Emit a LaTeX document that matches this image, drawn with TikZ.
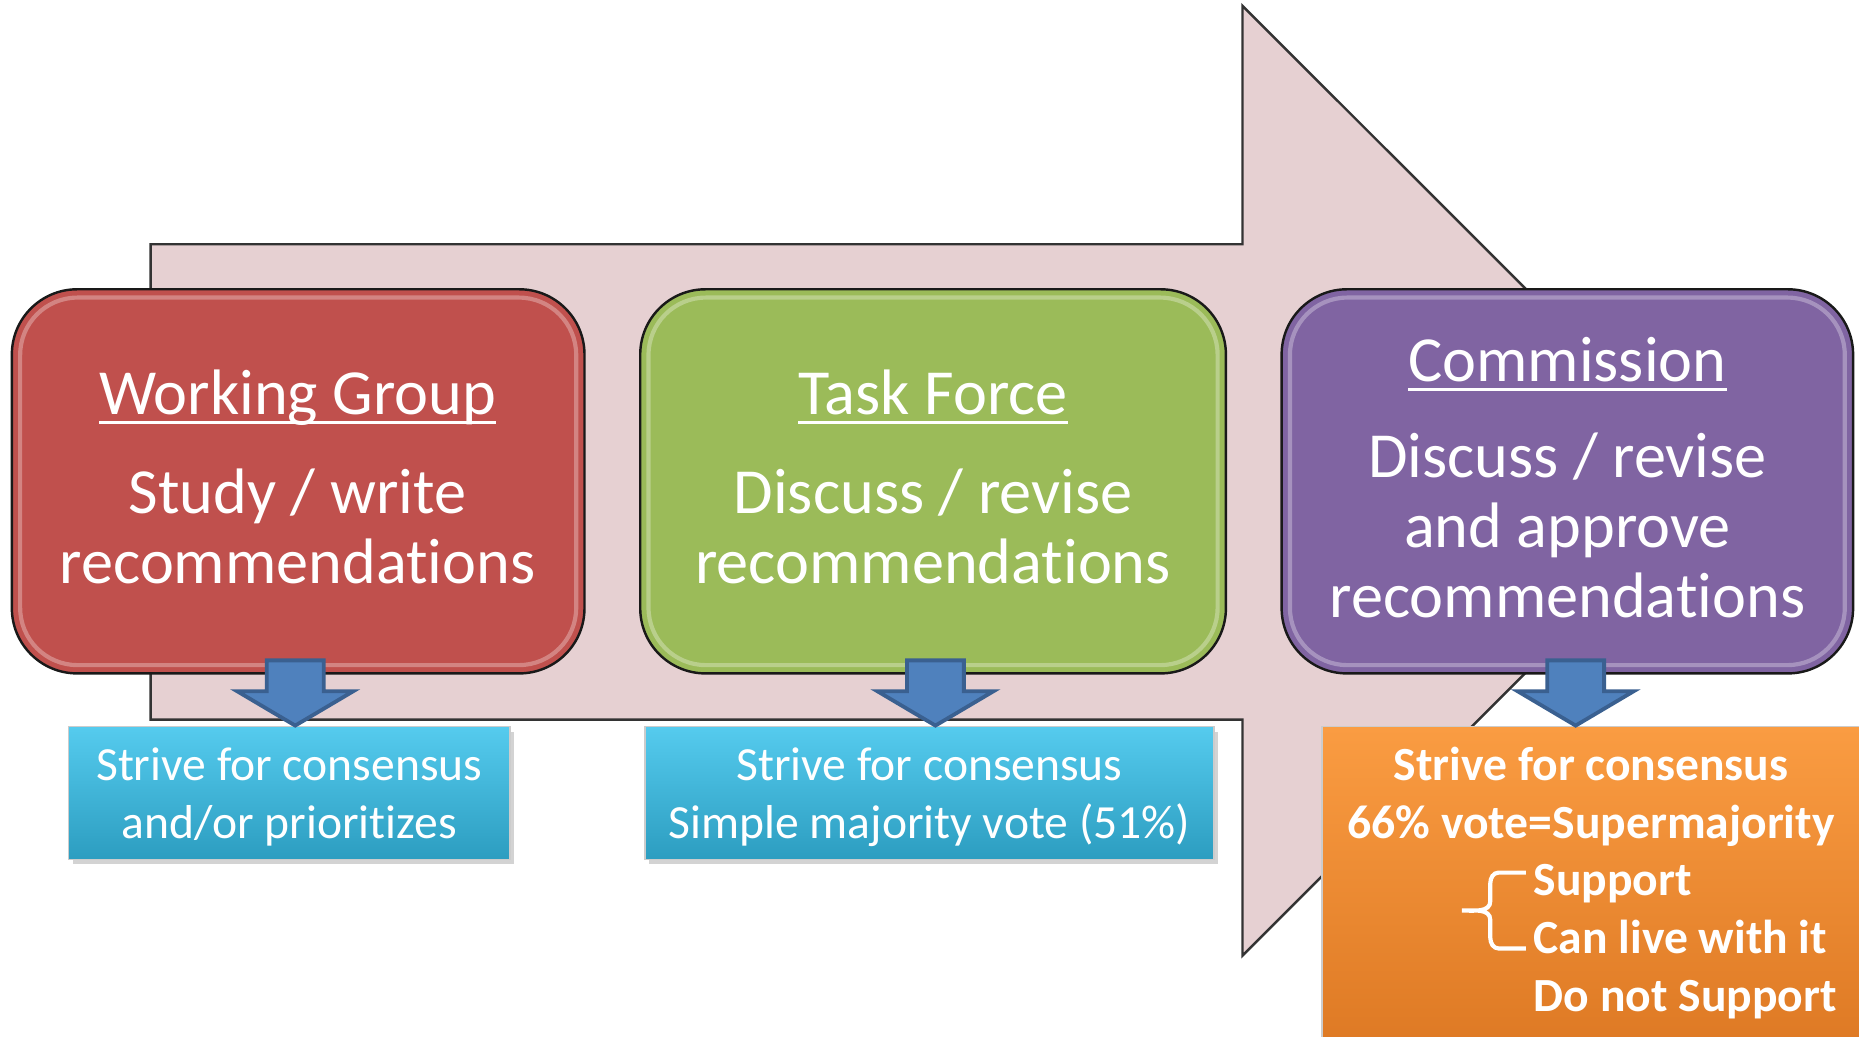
\documentclass[tikz,border=0pt]{standalone}
\usepackage{fontspec}
\setmainfont{Carlito}[Ligatures=NoCommon]
\usetikzlibrary{shadows}

\definecolor{bandpink}{HTML}{E6D0D2}
\definecolor{wgred}{HTML}{C0504D}
\definecolor{tfgreen}{HTML}{9BBB59}
\definecolor{cmpurple}{HTML}{8064A2}
\definecolor{arrowblue}{HTML}{4F81BD}
\definecolor{arrowedge}{HTML}{3A6090}
\definecolor{cyantop}{HTML}{55CBEE}
\definecolor{cyanbot}{HTML}{2C9DC0}
\definecolor{orangetop}{HTML}{FA9C42}
\definecolor{orangebot}{HTML}{DC7722}

\newcommand{\headline}[1]{\setbox0\hbox{#1}\rlap{\rule[-2.6pt]{\wd0}{0.8pt}}\box0}

\tikzset{
  band/.style={fill=bandpink, draw=black!80, line width=0.7pt},
  stage/.style={draw=black!90, line width=0.7pt, rounded corners=0.66cm},
  gloss/.style={draw=white, opacity=0.3, line width=1.2pt, rounded corners=0.58cm},
  stagetext/.style={text=white, align=center, anchor=base, inner sep=0pt,
    font=\fontsize{18.5}{20.2}\selectfont},
  rulebox/.style={draw=black!20, line width=0.4pt,
    drop shadow={opacity=0.35, shadow xshift=0.04cm, shadow yshift=-0.05cm}},
  ruletext/.style={text=white, align=center, anchor=base, inner sep=0pt,
    font=\fontsize{13.7}{16.6}\selectfont},
  downarrow/.style={fill=arrowblue, draw=arrowedge, line width=1.1pt}
}

\begin{document}
\begin{tikzpicture}[x=0.012cm, y=-0.012cm]
  \useasboundingbox (0,0) rectangle (1568,874);
  \clip (0,0) rectangle (1568,874);
  % big process arrow
  \draw[band] (127,206) -- (1048,206) -- (1048,5) -- (1449,405.5)
    -- (1048,806) -- (1048,607) -- (127,607) -- cycle;
  % stage boxes
  \draw[stage, fill=wgred] (10,244) rectangle (493,568);
  \draw[stage, fill=tfgreen] (540,244) rectangle (1034,568);
  \draw[stage, fill=cmpurple] (1081,244) rectangle (1563,568);
  \foreach \l/\r in {10/493, 540/1034, 1081/1563}
    \draw[gloss] (\l+7,251) rectangle (\r-7,561);
  % voting rule boxes
  \draw[rulebox, top color=cyantop, bottom color=cyanbot] (58,613) rectangle (430,725);
  \draw[rulebox, top color=cyantop, bottom color=cyanbot] (544,613) rectangle (1024,725);
  \draw[rulebox, top color=orangetop, bottom color=orangebot] (1115,613) rectangle (1590,900);
  % down arrows
  \foreach \x in {249,789,1329}
    \draw[downarrow] (\x-24,557) -- (\x+24,557) -- (\x+24,583) -- (\x+49,583)
      -- (\x,612) -- (\x-49,583) -- (\x-24,583) -- cycle;
  % stage texts
  \node[stagetext] (wg-title) at (251,350) {\headline{Working Group}};
  \node[stagetext] (wg-text) at (251,492) {Study / write\\recommendations};
  \node[stagetext] (tf-title) at (787,350) {\headline{Task Force}};
  \node[stagetext] (tf-text) at (787,492) {Discuss / revise\\recommendations};
  \node[stagetext] (cm-title) at (1322,322) {\headline{Commission}};
  \node[stagetext] (cm-text) at (1322,521) {Discuss / revise\\and approve\\recommendations};
  % rule texts
  \node[ruletext] (wg-rule) at (244,707) {Strive for consensus\\and/or prioritizes};
  \node[ruletext] (tf-rule) at (784,707) {Strive for consensus\\Simple majority vote (51\%)};
  \node[ruletext, font=\fontsize{13.7}{16.6}\selectfont\bfseries] (cm-rule) at (1342,707)
    {Strive for consensus\\66\% vote=Supermajority};
  \node[ruletext, align=left, anchor=base west, font=\fontsize{13.7}{16.6}\selectfont\bfseries]
    (cm-options) at (1293,853) {Support\\Can live with it\\Do not Support};
  % brace
  \draw[white, line width=1.2pt] (1287,736) -- (1264,736) to[out=180,in=90] (1257,745)
    -- (1257,760) to[out=-90,in=0] (1233,768) to[out=0,in=90] (1257,776)
    -- (1257,791) to[out=-90,in=180] (1264,800) -- (1287,800);
\end{tikzpicture}
\end{document}
